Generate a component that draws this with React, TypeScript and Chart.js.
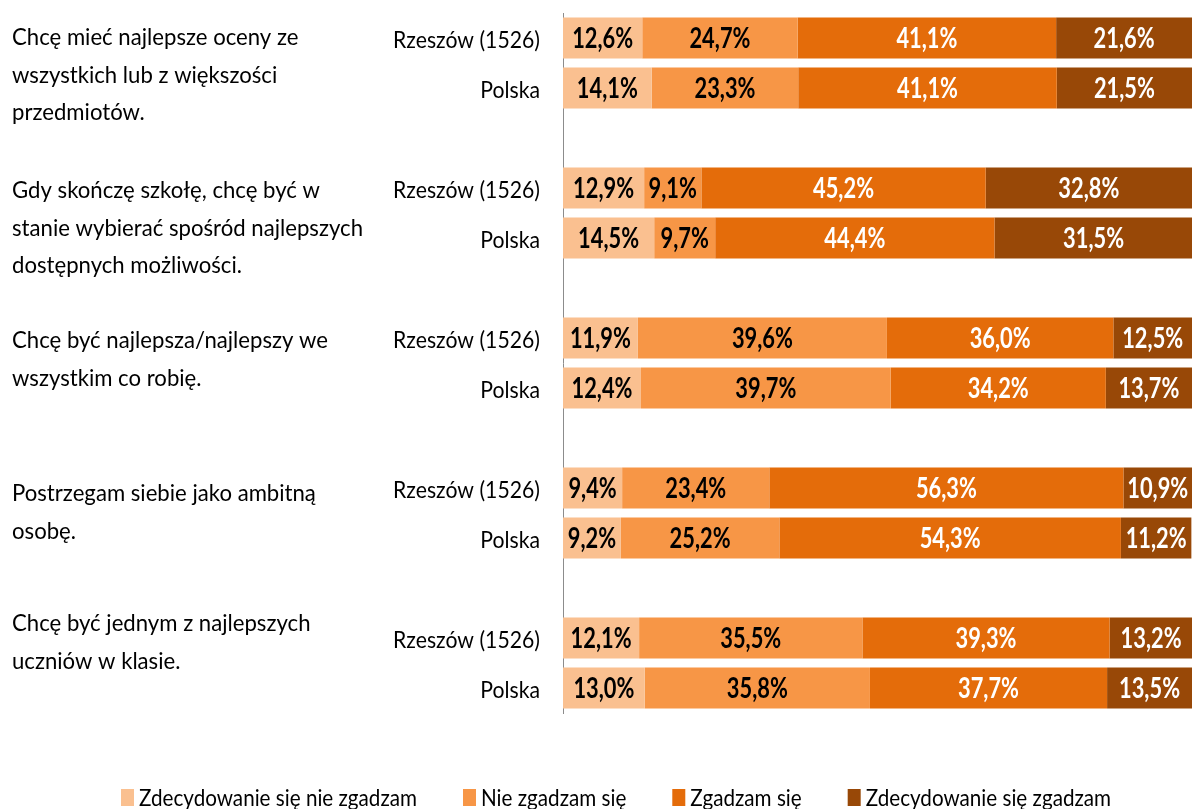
import { useEffect, useRef } from 'react';
import { Chart, registerables } from 'chart.js';

Chart.register(...registerables);

// ---------- data ----------
const rowLabels = [
  'Rzeszów (1526)', 'Polska', '',
  'Rzeszów (1526)', 'Polska', '',
  'Rzeszów (1526)', 'Polska', '',
  'Rzeszów (1526)', 'Polska', '',
  'Rzeszów (1526)', 'Polska',
];

const seriesNames = [
  'Zdecydowanie się nie zgadzam',
  'Nie zgadzam się',
  'Zgadzam się',
  'Zdecydowanie się zgadzam',
];

const stronglyDisagree = [12.6, 14.1, null, 12.9, 14.5, null, 11.9, 12.4, null, 9.4, 9.2, null, 12.1, 13.0];
const disagree = [24.7, 23.3, null, 9.1, 9.7, null, 39.6, 39.7, null, 23.4, 25.2, null, 35.5, 35.8];
const agree = [41.1, 41.1, null, 45.2, 44.4, null, 36.0, 34.2, null, 56.3, 54.3, null, 39.3, 37.7];
const stronglyAgree = [21.6, 21.5, null, 32.8, 31.5, null, 12.5, 13.7, null, 10.9, 11.2, null, 13.2, 13.5];

const questions = [
  ['Chcę mieć najlepsze oceny ze', 'wszystkich lub z większości', 'przedmiotów.'],
  ['Gdy skończę szkołę, chcę być w', 'stanie wybierać spośród najlepszych', 'dostępnych możliwości.'],
  ['Chcę być najlepsza/najlepszy we', 'wszystkim co robię.'],
  ['Postrzegam siebie jako ambitną', 'osobę.'],
  ['Chcę być jednym z najlepszych', 'uczniów w klasie.'],
];
const questionFirstRow = [0, 3, 6, 9, 12];

// ---------- style ----------
const colors = ['#FAC090', '#F79646', '#E46C0A', '#984807'];
const labelColors = ['#000000', '#000000', '#FFFFFF', '#FFFFFF'];
const questionShift = [-3, 0, 0, 3, -17];
const FAM = "Lato, 'Open Sans', 'Liberation Sans', sans-serif";

const fmt = (v: number) => v.toFixed(1).replace('.', ',') + '%';

function drawText(ctx: CanvasRenderingContext2D, text: string, x: number, y: number, align: CanvasTextAlign, sx: number) {
  ctx.save();
  ctx.translate(x, y);
  ctx.scale(sx, 1);
  ctx.textAlign = align;
  ctx.fillText(text, 0, 0);
  ctx.restore();
}

const textPlugin = {
  id: 'customTexts',
  afterDatasetsDraw(chart: any) {
    const ctx: CanvasRenderingContext2D = chart.ctx;
    const area = chart.chartArea;
    const yScale = chart.scales.y;
    ctx.save();
    ctx.textBaseline = 'alphabetic';

    // data labels
    ctx.font = `bold 28px ${FAM}`;
    const sxBold = 61 / ctx.measureText('12,6%').width;
    chart.data.datasets.forEach((ds: any, i: number) => {
      const meta = chart.getDatasetMeta(i);
      meta.data.forEach((el: any, j: number) => {
        const v = ds.data[j];
        if (v == null) return;
        const p = el.getProps(['x', 'base', 'y'], true);
        ctx.fillStyle = labelColors[i];
        drawText(ctx, fmt(v), (p.x + p.base) / 2, p.y + 10, 'center', sxBold);
      });
    });

    // row labels
    ctx.font = `24px ${FAM}`;
    ctx.fillStyle = '#000000';
    const sxRow = 147 / ctx.measureText('Rzeszów (1526)').width;
    chart.data.labels.forEach((lab: string, j: number) => {
      if (!lab) return;
      const y = yScale.getPixelForValue(j);
      drawText(ctx, lab, area.left - 23, y + 10, 'right', sxRow);
    });

    // question texts
    const sxQ = 351 / ctx.measureText('stanie wybierać spośród najlepszych').width;
    questions.forEach((lines, q) => {
      const y0 = yScale.getPixelForValue(questionFirstRow[q]) + 10 + questionShift[q];
      lines.forEach((line, k) => {
        drawText(ctx, line, 12, y0 + k * 37.5, 'left', sxQ);
      });
    });

    // legend
    const sxL = 278 / ctx.measureText('Zdecydowanie się nie zgadzam').width;
    let x = 121;
    const boxTop = 789;
    chart.data.datasets.forEach((ds: any) => {
      ctx.fillStyle = ds.backgroundColor;
      ctx.fillRect(x, boxTop, 13, 17);
      ctx.fillStyle = '#000000';
      drawText(ctx, ds.label, x + 18, 806, 'left', sxL);
      const w = ctx.measureText(ds.label).width * sxL;
      x = x + 18 + w + 46;
    });

    ctx.restore();
  },
};

export default function App() {
  const ref = useRef<HTMLCanvasElement | null>(null);

  useEffect(() => {
    if (!ref.current) return;
    const seriesData = [stronglyDisagree, disagree, agree, stronglyAgree];
    const chart = new Chart(ref.current, {
      type: 'bar',
      data: {
        labels: rowLabels,
        datasets: seriesData.map((d, i) => ({
          label: seriesNames[i],
          data: d as any,
          backgroundColor: colors[i],
          borderWidth: 0,
          barPercentage: 0.82,
          categoryPercentage: 1,
        })),
      },
      options: {
        indexAxis: 'y',
        responsive: false,
        devicePixelRatio: 1,
        animation: false,
        layout: { padding: { top: 13, bottom: 96, left: 0, right: 0 } },
        plugins: {
          legend: { display: false },
          tooltip: { enabled: false },
        },
        scales: {
          x: { stacked: true, min: 0, max: 100, display: false },
          y: {
            stacked: true,
            ticks: { display: false },
            grid: { display: false },
            border: { display: true, color: '#8c8c8c', width: 1 },
            afterFit: (s: any) => {
              s.width = 563;
            },
          },
        },
      },
      plugins: [textPlugin],
    });
    return () => chart.destroy();
  }, []);

  return (
    <div style={{ position: 'absolute', left: 0, top: 0, width: 1192, height: 809, background: '#ffffff' }}>
      <canvas ref={ref} width={1192} height={809} />
    </div>
  );
}
